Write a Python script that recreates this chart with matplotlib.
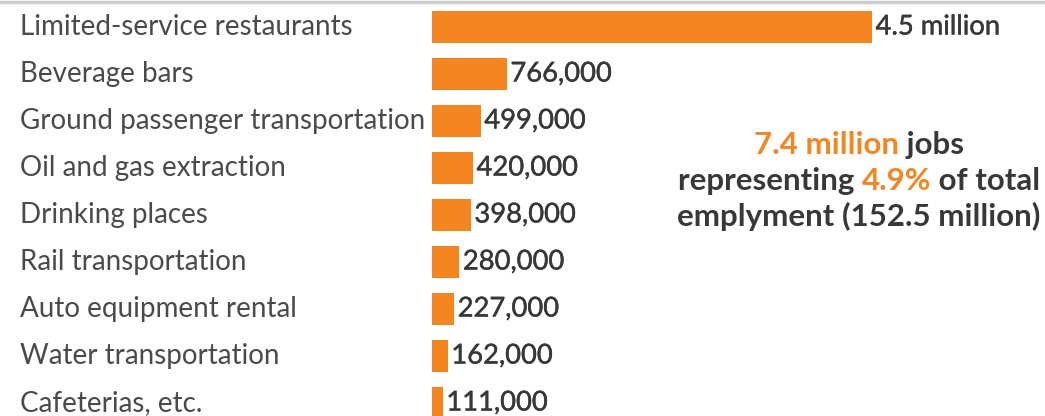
import matplotlib
matplotlib.use("Agg")
import matplotlib.pyplot as plt
import matplotlib.patheffects as pe

# data (thousands of jobs)
industries = [
    "Limited-service restaurants",
    "Beverage bars",
    "Ground passenger transportation",
    "Oil and gas extraction",
    "Drinking places",
    "Rail transportation",
    "Auto equipment rental",
    "Water transportation",
    "Cafeterias, etc.",
]
jobs = [4500, 766, 499, 420, 398, 280, 227, 162, 111]
value_labels = ["4.5 million", "766,000", "499,000", "420,000", "398,000",
                "280,000", "227,000", "162,000", "111,000"]

ORANGE = "#F5861F"
GRAY = "#4a4a4a"
DARK = "#383838"
W, H = 1045, 416

plt.rcParams["font.family"] = ["Lato", "DejaVu Sans"]

fig = plt.figure(figsize=(W / 100, H / 100), dpi=100)
ax = fig.add_axes([432 / W, 0, 1 - 432 / W, 1])

y = list(range(len(jobs)))
ax.barh(y, jobs, height=0.7, color=ORANGE, left=0)
ax.set_xlim(0, 613 / 97.8 * 1000)
ax.set_ylim((416 - 27) / 47, -27 / 47)
ax.axis("off")

# fake a semibold weight with a thin stroke
semi = [pe.withStroke(linewidth=0.3, foreground=DARK)]
for yi, v, lab in zip(y, jobs, value_labels):
    ax.annotate(lab, (v, yi), xytext=(2.5, 0), textcoords="offset points",
                va="center", ha="left", fontsize=19.7, color=DARK,
                path_effects=semi)

for yi, name in zip(y, industries):
    fig.text(20 / W, 1 - (27 + 47 * yi) / H, name, fontsize=20, color=GRAY,
             va="center", ha="left")

# top rule
fig.add_artist(plt.Line2D([0, 1], [1 - 1.5 / H, 1 - 1.5 / H], color="#cccccc", lw=2.5,
                          transform=fig.transFigure))

# annotation with mixed colours, each line centred
lines = [
    [("7.4 million", ORANGE), (" jobs", DARK)],
    [("representing ", DARK), ("4.9%", ORANGE), (" of total", DARK)],
    [("emplyment (152.5 million)", DARK)],
]
centre_x = 859
line_y = [145, 181, 216]
renderer = fig.canvas.get_renderer()
for segs, ly in zip(lines, line_y):
    texts = []
    for s, c in segs:
        t = fig.text(0, 1 - ly / H, s, fontsize=22.5, color=c, fontweight="bold",
                     va="center", ha="left")
        texts.append(t)
    widths = [t.get_window_extent(renderer).width for t in texts]
    x = centre_x - sum(widths) / 2
    for t, w in zip(texts, widths):
        t.set_x(x / W)
        x += w

fig.savefig("out.png", dpi=100)
